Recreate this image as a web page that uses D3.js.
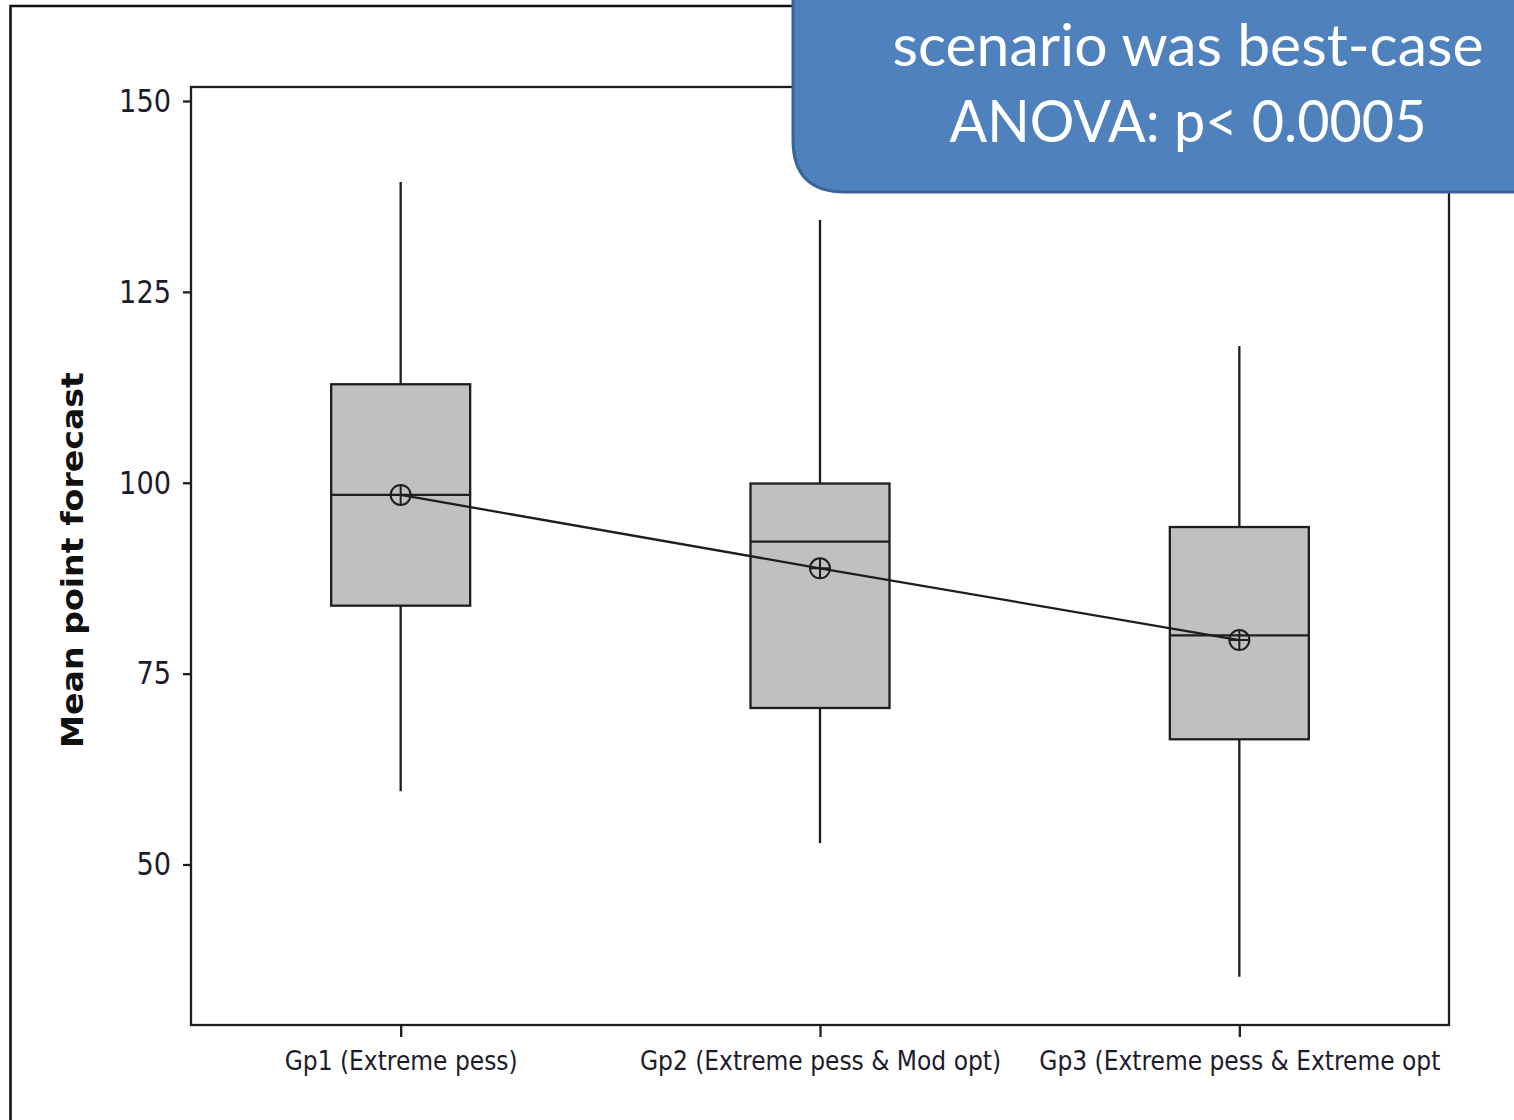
<!DOCTYPE html>
<html>
<head>
<meta charset="utf-8">
<script src="https://cdn.jsdelivr.net/npm/d3@7"></script>
<style>
  html, body { margin: 0; padding: 0; background: #fff; }
  svg { display: block; }
</style>
</head>
<body>
<div id="chart"></div>
<script>
// ---- data ----
const categories = ["Gp1 (Extreme pess)", "Gp2 (Extreme pess & Mod opt)", "Gp3 (Extreme pess & Extreme opt"];
const whiskerLow  = [59.6, 52.8, 35.3];
const q1          = [83.9, 70.5, 66.4];
const median      = [98.4, 92.3, 80.0];
const q3          = [112.9, 99.9, 94.2];
const whiskerHigh = [139.4, 134.4, 117.9];
const means       = [98.4, 88.8, 79.4];
const yTicks      = [50, 75, 100, 125, 150];
const yTitle      = "Mean point forecast";
const noteLines   = ["scenario was best-case", "ANOVA: p< 0.0005"];

const W = 1514, H = 1120;
const svg = d3.select("#chart").append("svg").attr("width", W).attr("height", H);

const plot = {left: 191, right: 1449, top: 87, bottom: 1025};

const x = d3.scalePoint().domain(categories).range([plot.left, plot.right]).padding(0.5);
const y = d3.scaleLinear().domain([50, 150]).range([864.5, 101]);

const ink = "#1e1e1e", sw = 2.3;

// outer screenshot frame (top & left edges visible)
svg.append("path").attr("d", `M10.5,${H} L10.5,6 L${W},6`)
  .attr("fill", "none").attr("stroke", "#111").attr("stroke-width", 2.6);

// plot frame
svg.append("rect").attr("x", plot.left).attr("y", plot.top)
  .attr("width", plot.right - plot.left).attr("height", plot.bottom - plot.top)
  .attr("fill", "none").attr("stroke", ink).attr("stroke-width", sw);

// y axis
const yAxis = svg.append("g").attr("transform", `translate(${plot.left},0)`)
  .call(d3.axisLeft(y).tickValues(yTicks).tickSize(8).tickPadding(12));
yAxis.select(".domain").remove();
yAxis.selectAll(".tick line").attr("stroke", ink).attr("stroke-width", sw);
yAxis.selectAll(".tick text").attr("font-family", "'DejaVu Sans', sans-serif")
  .style("font-stretch", "condensed")
  .attr("font-size", 32).attr("fill", "#1c1c2c")
  .attr("textLength", d => String(d).length * 17.3).attr("lengthAdjust", "spacingAndGlyphs");

// x axis
const xAxis = svg.append("g").attr("transform", `translate(0,${plot.bottom})`)
  .call(d3.axisBottom(x).tickSize(12).tickPadding(15));
xAxis.select(".domain").remove();
xAxis.selectAll(".tick line").attr("stroke", ink).attr("stroke-width", sw);
xAxis.selectAll(".tick text").attr("font-family", "'DejaVu Sans', sans-serif")
  .style("font-stretch", "condensed")
  .attr("font-size", 26).attr("fill", "#1c1c2c");

// y title
svg.append("text")
  .attr("transform", `translate(83,560) rotate(-90)`)
  .attr("text-anchor", "middle")
  .attr("font-family", "'DejaVu Sans', sans-serif").attr("font-weight", "bold")
  .attr("font-size", 30).attr("fill", "#111")
  .attr("textLength", 376).attr("lengthAdjust", "spacingAndGlyphs")
  .text(yTitle);

// boxes
const boxW = 139;
const data = categories.map((c, i) => ({
  c, lo: whiskerLow[i], q1: q1[i], med: median[i], q3: q3[i], hi: whiskerHigh[i], mean: means[i]
}));

const g = svg.append("g");
const bx = g.selectAll("g.box").data(data).join("g").attr("class", "box");
bx.append("line").attr("x1", d => x(d.c)).attr("x2", d => x(d.c))
  .attr("y1", d => y(d.hi)).attr("y2", d => y(d.q3)).attr("stroke", ink).attr("stroke-width", sw);
bx.append("line").attr("x1", d => x(d.c)).attr("x2", d => x(d.c))
  .attr("y1", d => y(d.q1)).attr("y2", d => y(d.lo)).attr("stroke", ink).attr("stroke-width", sw);
bx.append("rect").attr("x", d => x(d.c) - boxW / 2).attr("width", boxW)
  .attr("y", d => y(d.q3)).attr("height", d => y(d.q1) - y(d.q3))
  .attr("fill", "#c0c0c0").attr("stroke", ink).attr("stroke-width", sw);
bx.append("line").attr("x1", d => x(d.c) - boxW / 2).attr("x2", d => x(d.c) + boxW / 2)
  .attr("y1", d => y(d.med)).attr("y2", d => y(d.med)).attr("stroke", ink).attr("stroke-width", sw);

// mean connect line
g.append("path").datum(data)
  .attr("d", d3.line().x(d => x(d.c)).y(d => y(d.mean)))
  .attr("fill", "none").attr("stroke", ink).attr("stroke-width", sw);

// mean markers (circle with cross)
const r = 10;
const mk = g.selectAll("g.mean").data(data).join("g").attr("class", "mean")
  .attr("transform", d => `translate(${x(d.c)},${y(d.mean)})`);
mk.append("circle").attr("r", r).attr("fill", "none").attr("stroke", ink).attr("stroke-width", 2);
mk.append("line").attr("x1", -r).attr("x2", r).attr("stroke", ink).attr("stroke-width", 2);
mk.append("line").attr("y1", -r).attr("y2", r).attr("stroke", ink).attr("stroke-width", 2);

// annotation callout
const bL = 793, bB = 192, rad = 52;
svg.append("path")
  .attr("d", `M${W + 10},-10 L${bL},-10 L${bL},${bB - rad} Q${bL},${bB} ${bL + rad},${bB} L${W + 10},${bB}`)
  .attr("fill", "#4f81bd").attr("stroke", "#3b6596").attr("stroke-width", 3);

const noteY = [66, 142];
const noteLen = [591, 477];
svg.selectAll("text.note").data(noteLines).join("text").attr("class", "note")
  .attr("x", 1188).attr("y", (d, i) => noteY[i])
  .attr("text-anchor", "middle")
  .attr("font-family", "Lato, 'Open Sans', sans-serif")
  .attr("font-size", 58).attr("fill", "#fff")
  .attr("textLength", (d, i) => noteLen[i]).attr("lengthAdjust", "spacingAndGlyphs")
  .text(d => d);
</script>
</body>
</html>
